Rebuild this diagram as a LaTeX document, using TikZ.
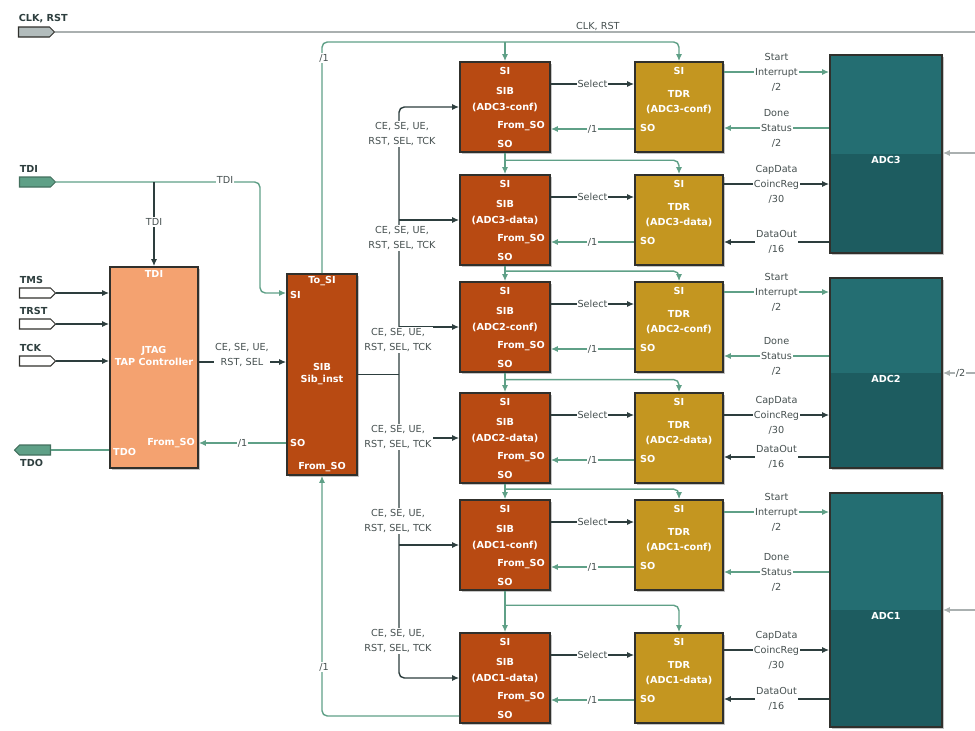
\documentclass[tikz,border=0pt]{standalone}
\usepackage{fontspec}
\setmainfont{DejaVu Sans}
\usetikzlibrary{arrows.meta,positioning,calc,shapes.symbols,shadows}
\definecolor{sigGreen}{RGB}{95,160,135}
\definecolor{wire}{RGB}{45,62,62}
\definecolor{boxline}{RGB}{48,48,44}
\definecolor{jtagfill}{RGB}{244,162,112}
\definecolor{sibfill}{RGB}{184,74,18}
\definecolor{tdrfill}{RGB}{196,150,32}
\definecolor{adctop}{RGB}{36,110,114}
\definecolor{adclow}{RGB}{29,92,96}
\definecolor{graywire}{RGB}{170,176,176}
\definecolor{portgray}{RGB}{178,188,188}
\definecolor{txt}{RGB}{70,80,80}

\begin{document}
\begin{tikzpicture}[x=0.2mm, y=-0.2mm, font=\fontsize{5.5}{6.5}\selectfont,
  >={Latex[length=1.4mm,width=1.2mm]},
  gw/.style={draw=sigGreen, line width=0.8pt},
  dw/.style={draw=wire, line width=0.8pt},
  box/.style={draw=boxline, line width=0.9pt, inner sep=0pt,
    drop shadow={shadow xshift=0.4mm, shadow yshift=-0.4mm, fill=black!45}},
  sibbox/.style={box, fill=sibfill, minimum width=18mm, minimum height=18mm},
  tdrbox/.style={box, fill=tdrfill, minimum width=17.6mm, minimum height=18mm},
  adcbox/.style={box, fill=adctop, minimum width=22.4mm,
    path picture={\fill[adclow] (path picture bounding box.west) rectangle (path picture bounding box.south east);}},
  intxt/.style={text=white, font=\fontsize{5.5}{6.5}\selectfont\bfseries, inner sep=0.5pt, align=center},
  lbl/.style={text=txt, fill=white, inner sep=0.6pt, align=center, font=\fontsize{5.5}{8.5}\selectfont},
  ptxt/.style={text=wire, font=\fontsize{5.5}{6.5}\selectfont\bfseries, inner sep=0.3pt},
  port/.style={signal, signal to=east, draw=boxline, line width=0.6pt, minimum width=7.2mm, minimum height=2mm, inner sep=0pt}
]
\useasboundingbox (0,0) rectangle (975,731);

\node[port, fill=portgray] (clk) at (34,32) {};
\node[ptxt, anchor=south west] (clk-l) at ([yshift=0.6mm]clk.north west) {CLK, RST};
\coordinate (clkend) at (975,32);
\draw[draw=graywire, line width=0.8pt] (clk.east) -- (clkend) node[pos=0.59, above, text=txt, inner sep=0.2pt] (clk-m) {CLK, RST};

\node[port, fill=sigGreen, draw=sigGreen!70!black] (tdi) at (35,182) {};
\node[ptxt, anchor=south west] (tdi-l) at ([yshift=0.6mm]tdi.north west) {TDI};
\node[port, fill=white] (tms) at (35,293) {};
\node[ptxt, anchor=south west] (tms-l) at ([yshift=0.6mm]tms.north west) {TMS};
\node[port, fill=white] (trst) at (35,324) {};
\node[ptxt, anchor=south west] (trst-l) at ([yshift=0.6mm]trst.north west) {TRST};
\node[port, fill=white] (tck) at (35,361) {};
\node[ptxt, anchor=south west] (tck-l) at ([yshift=0.6mm]tck.north west) {TCK};
\node[port, signal to=west, fill=sigGreen, draw=sigGreen!70!black] (tdo) at (35,450) {};
\node[ptxt, anchor=north west] (tdo-l) at ([yshift=-0.6mm]tdo.south west) {TDO};

\node[box, fill=jtagfill, minimum width=17.6mm, minimum height=40.2mm] (jtag) at (154,367.5) {};
\node[intxt] (jtag-tdi) at (154,274) {TDI};
\node[intxt] (jtag-t) at (154,356) {JTAG\\TAP Controller};
\node[intxt, anchor=west] (jtag-tdo) at (112,452) {TDO};
\node[intxt, anchor=east] (jtag-fso) at (196,443) {From\_SO};

\node[sibbox, minimum width=14mm, minimum height=40.2mm] (sibi) at (322,374.5) {};
\node[intxt] (sibi-tsi) at (322,281) {To\_SI};
\node[intxt, anchor=west] (sibi-si) at (289,295) {SI};
\node[intxt] (sibi-t) at (322,374) {SIB\\Sib\_inst};
\node[intxt, anchor=west] (sibi-so) at (289,443) {SO};
\node[intxt] (sibi-fso) at (322,467) {From\_SO};

\foreach \n/\yt/\nm in {a3c/62/ADC3-conf, a3d/175/ADC3-data, a2c/282/ADC2-conf, a2d/393/ADC2-data, a1c/500/ADC1-conf, a1d/633/ADC1-data} {
  \node[sibbox] (sib-\n) at (505,\yt+45) {};
  \node[tdrbox] (tdr-\n) at (679,\yt+45) {};
  \node[intxt] (sib-\n-si) at (505,\yt+9) {SI};
  \node[intxt] (sib-\n-t) at (505,\yt+29) {SIB};
  \node[intxt] (sib-\n-nm) at (505,\yt+45) {(\nm)};
  \node[intxt, anchor=east] (sib-\n-fso) at (546,\yt+64) {From\_SO};
  \node[intxt] (sib-\n-so) at (505,\yt+82) {SO};
  \node[intxt] (tdr-\n-si) at (679,\yt+9) {SI};
  \node[intxt] (tdr-\n-t) at (679,\yt+32) {TDR};
  \node[intxt] (tdr-\n-nm) at (679,\yt+47) {(\nm)};
  \node[intxt, anchor=west] (tdr-\n-so) at (639,\yt+66) {SO};
  \draw[dw,->] (sib-\n.east |- 0,\yt+22) -- (tdr-\n.west |- 0,\yt+22) node[lbl, midway] (sel-\n) {Select};
  \draw[gw,->] (tdr-\n.west |- 0,\yt+67) -- (sib-\n.east |- 0,\yt+67) node[lbl, midway] (ret-\n) {/1};
}

\node[adcbox, minimum height=39.6mm] (adc3) at (886,154) {};
\node[intxt, anchor=north] (adc3-t) at ($(adc3.center)+(0,1)$) {ADC3};
\node[adcbox, minimum height=38mm] (adc2) at (886,373) {};
\node[intxt, anchor=north] (adc2-t) at ($(adc2.center)+(0,1)$) {ADC2};
\node[adcbox, minimum height=46.8mm] (adc1) at (886,610) {};
\node[intxt, anchor=north] (adc1-t) at ($(adc1.center)+(0,1)$) {ADC1};

\foreach \a/\b in {a3c/a3d, a3d/a2c, a2c/a2d, a2d/a1c, a1c/a1d} {
  \draw[gw,->] (sib-\a.south) -- (sib-\b.north);
  \coordinate (br-\b) at ($(sib-\a.south)!0.35!(sib-\b.north)$);
  \draw[gw,->,rounded corners=3pt] (br-\b) -| (tdr-\b.north);
}

\foreach \n/\adc/\ya/\yb in {a3c/adc3/72/128, a2c/adc2/292/356, a1c/adc1/512/572} {
  \draw[gw,->] (tdr-\n.east |- 0,\ya) -- (\adc.west |- 0,\ya) node[lbl, midway] (st-\n) {Start\\Interrupt\\/2};
  \draw[gw,->] (\adc.west |- 0,\yb) -- (tdr-\n.east |- 0,\yb) node[lbl, midway] (dn-\n) {Done\\Status\\/2};
}
\foreach \n/\adc/\ya/\yb in {a3d/adc3/184/242, a2d/adc2/415/457, a1d/adc1/650/699} {
  \draw[dw,->] (tdr-\n.east |- 0,\ya) -- (\adc.west |- 0,\ya) node[lbl, midway] (cap-\n) {CapData\\CoincReg\\/30};
  \draw[dw,->] (\adc.west |- 0,\yb) -- (tdr-\n.east |- 0,\yb) node[lbl, midway] (out-\n) {DataOut\\/16};
}

\coordinate (in3) at (975,153);
\coordinate (in2) at (975,373);
\coordinate (in1) at (975,610);
\draw[draw=graywire, line width=0.8pt, ->] (in3) -- (adc3.east |- in3);
\draw[draw=graywire, line width=0.8pt, ->] (in2) -- (adc2.east |- in2) node[pos=0.45, fill=white, text=txt, inner sep=0.5pt] (in2-l) {/2};
\draw[draw=graywire, line width=0.8pt, ->] (in1) -- (adc1.east |- in1);

\coordinate (tdij) at (jtag.north |- tdi.east);
\draw[gw, rounded corners=3pt, ->] (tdi.east) -- (260,182) |- (sibi.west |- 0,293);
\draw[dw, ->] (tdij) -- (jtag.north);
\node[lbl] (tdi-l1) at (225,180) {TDI};
\node[lbl] (tdi-l2) at (154,222) {TDI};
\draw[dw,->] (tms.east) -- (jtag.west |- tms.east);
\draw[dw,->] (trst.east) -- (jtag.west |- trst.east);
\draw[dw,->] (tck.east) -- (jtag.west |- tck.east);
\draw[gw] (jtag.west |- tdo.east) -- (tdo.east);

\draw[dw,->] (jtag.east |- 0,362) -- (sibi.west |- 0,362);
\node[lbl] (ctl-l) at (242,355) {CE, SE, UE,\\RST, SEL};
\draw[gw,->] (sibi.west |- 0,443) -- (jtag.east |- 0,443) node[lbl, midway] (so-l) {/1};

\draw[gw, rounded corners=3pt, ->] (sibi.north) |- (tdr-a3c.north |- 0,42) -- (tdr-a3c.north);
\draw[gw, ->] (sib-a3c.north |- 0,42) -- (sib-a3c.north);
\node[lbl] (tsi-l) at (324,58) {/1};
\draw[gw, rounded corners=3pt, ->] (sib-a1d.west |- 0,716) -| (sibi.south);
\node[lbl] (fso-l) at (324,667) {/1};

\coordinate (bus) at (399,374.5);
\draw[dw] (sibi.east) -- (bus);
\draw[dw, rounded corners=3pt, <->] (sib-a3c.west) -| (bus) |- (sib-a1d.west);
\foreach \n in {a3d, a2c, a2d, a1c} {
  \draw[dw,->] (sib-\n.west -| bus) -- (sib-\n.west);
}
\node[lbl] (bus-l1) at (402,134) {CE, SE, UE,\\RST, SEL, TCK};
\node[lbl] (bus-l2) at (402,238) {CE, SE, UE,\\RST, SEL, TCK};
\node[lbl] (bus-l3) at (398,340) {CE, SE, UE,\\RST, SEL, TCK};
\node[lbl] (bus-l4) at (398,437) {CE, SE, UE,\\RST, SEL, TCK};
\node[lbl] (bus-l5) at (398,521) {CE, SE, UE,\\RST, SEL, TCK};
\node[lbl] (bus-l6) at (398,641) {CE, SE, UE,\\RST, SEL, TCK};
\end{tikzpicture}
\end{document}
